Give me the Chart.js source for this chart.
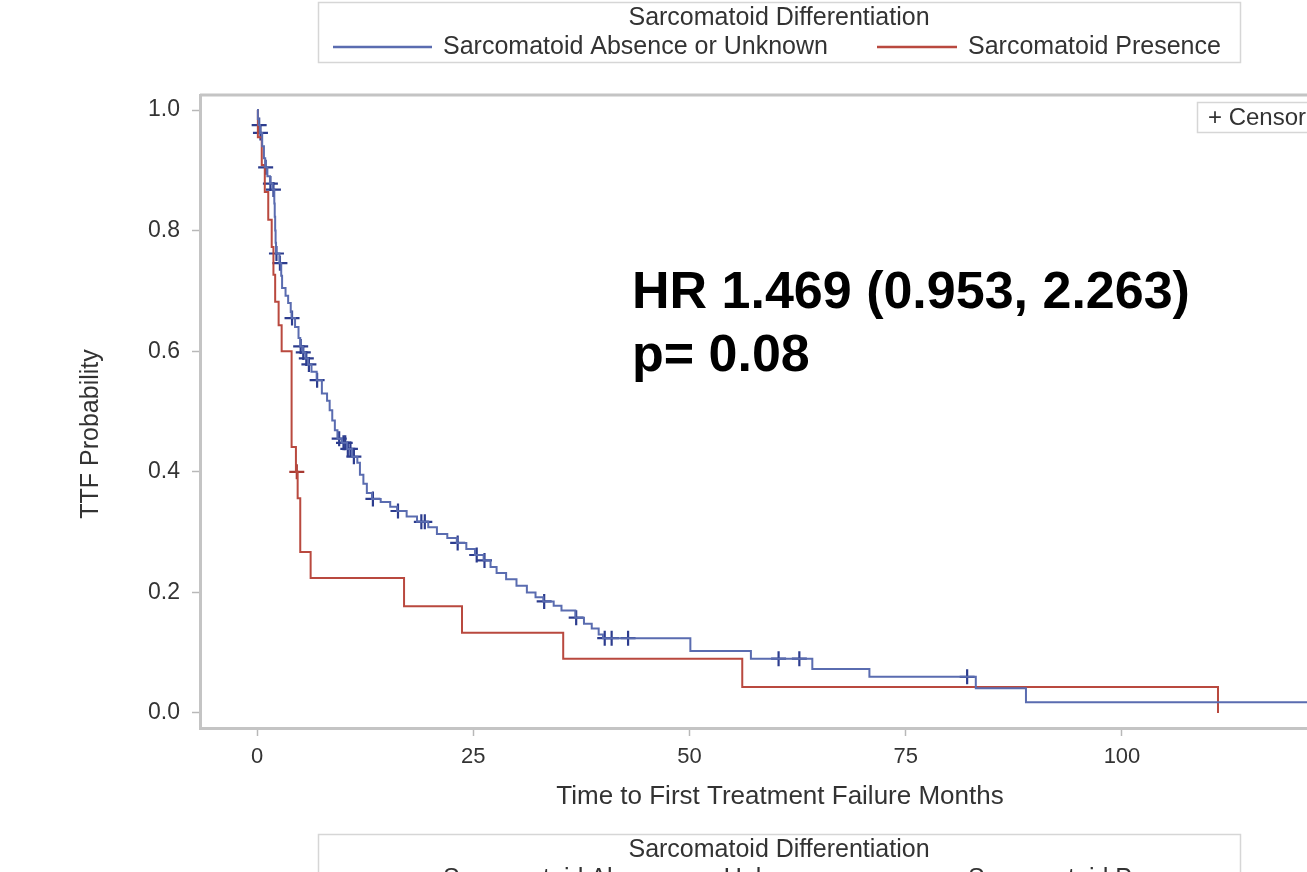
<!DOCTYPE html>
<html>
<head>
<meta charset="utf-8">
<script src="https://cdn.jsdelivr.net/npm/chart.js@4"></script>
<style>
  body { margin: 0; background: #fff; }
  canvas { display: block; }
</style>
</head>
<body>
<canvas id="km" width="1307" height="872"></canvas>
<script>
// Kaplan-Meier: time to first treatment failure, by sarcomatoid differentiation
const groupTitle = 'Sarcomatoid Differentiation';
const seriesNames = ['Sarcomatoid Absence or Unknown', 'Sarcomatoid Presence'];

// absence / unknown: event times (months) and survival after each step
const absTimes = [0, 0.1, 0.2, 0.35, 0.6, 0.8, 0.95, 1.2, 1.5, 1.8, 2.0, 2.05, 2.1, 2.15, 2.2, 2.6, 2.8, 2.9,
  3.3, 3.6, 3.9, 4.0, 4.4, 4.8, 5.0, 5.3, 5.6, 5.9, 6.3, 6.9, 7.5, 8.1, 8.4, 8.7, 9.0, 9.3, 9.8, 10.4,
  11.0, 11.6, 11.9, 12.3, 12.7, 13.3, 14.3, 15.4, 16.2, 17.3, 18.5, 19.8, 20.8, 22.0, 23.1, 24.2, 25.2,
  26.2, 27.0, 27.7, 28.8, 30.0, 31.2, 32.2, 33.1, 34.3, 35.2, 36.8, 37.8, 38.7, 39.5, 40.0, 50.1, 57.1,
  64.2, 70.8, 83.1, 88.9, 122];
const absSurv = [1.0, 0.985, 0.975, 0.962, 0.94, 0.92, 0.905, 0.89, 0.878, 0.868, 0.845, 0.823, 0.80, 0.78,
  0.762, 0.746, 0.725, 0.705, 0.692, 0.68, 0.665, 0.655, 0.64, 0.622, 0.608, 0.598, 0.588, 0.578, 0.566,
  0.552, 0.53, 0.518, 0.502, 0.485, 0.469, 0.455, 0.448, 0.438, 0.425, 0.415, 0.395, 0.38, 0.365, 0.355,
  0.35, 0.342, 0.335, 0.326, 0.317, 0.308, 0.297, 0.29, 0.282, 0.272, 0.262, 0.253, 0.242, 0.232, 0.222,
  0.211, 0.2, 0.192, 0.185, 0.178, 0.17, 0.158, 0.148, 0.14, 0.13, 0.124, 0.103, 0.09, 0.073, 0.06,
  0.041, 0.018, 0.018];
const absCensored = [0.25, 0.4, 1.0, 1.55, 1.9, 2.25, 2.65, 4.05, 5.05, 5.35, 5.7, 6.0, 6.95, 9.5, 10.0,
  10.2, 10.5, 10.8, 11.2, 13.4, 16.3, 19.0, 19.4, 23.2, 25.4, 26.3, 33.2, 36.9, 40.2, 41.0, 42.9, 60.3,
  62.7, 82.1];

// presence
const presTimes = [0, 0.1, 0.55, 0.9, 1.3, 1.7, 1.9, 2.1, 2.5, 2.85, 4.0, 4.5, 4.7, 5.0, 6.2, 17.0, 23.7,
  35.4, 56.1, 111.1];
const presSurv = [1.0, 0.955, 0.909, 0.864, 0.818, 0.773, 0.727, 0.682, 0.643, 0.60, 0.441, 0.40, 0.356,
  0.267, 0.224, 0.177, 0.133, 0.09, 0.043, 0.0];
const presCensored = [4.6];

const xTicks = [0, 25, 50, 75, 100];
const yTicks = [0, 0.2, 0.4, 0.6, 0.8, 1.0];

const hrLine = 'HR 1.469 (0.953, 2.263)';
const pLine = 'p= 0.08';

const FONT = '"Liberation Sans", Arial, sans-serif';
const blueLine = '#5a6cb0';
const blueMark = '#2c3c8e';
const redLine = '#b9493f';
const redMark = '#a83a32';
const frameColor = '#c4c4c4';

function toPoints(times, surv) {
  return times.map((t, i) => ({ x: t, y: surv[i] }));
}

// survival value at a censor time = last step at or before it
function censorPoints(censored, times, surv) {
  return censored.map(c => {
    let s = surv[0];
    for (let i = 0; i < times.length; i++) {
      if (times[i] <= c) s = surv[i];
    }
    return { x: c, y: s };
  });
}

function drawLegendBox(ctx, top) {
  ctx.save();
  ctx.strokeStyle = '#d6d6d6';
  ctx.lineWidth = 1.5;
  ctx.strokeRect(318.5, top + 0.5, 922, 60);
  ctx.fillStyle = '#333';
  ctx.textBaseline = 'middle';
  ctx.font = '25px ' + FONT;
  ctx.textAlign = 'center';
  ctx.fillText(groupTitle, 779, top + 16, 330);
  ctx.textAlign = 'left';
  ctx.lineWidth = 2.5;
  ctx.strokeStyle = blueLine;
  ctx.beginPath(); ctx.moveTo(333, top + 45); ctx.lineTo(432, top + 45); ctx.stroke();
  ctx.strokeStyle = redLine;
  ctx.beginPath(); ctx.moveTo(877, top + 45); ctx.lineTo(957, top + 45); ctx.stroke();
  ctx.fillText(seriesNames[0], 443, top + 45, 392);
  ctx.fillText(seriesNames[1], 968, top + 45, 258);
  ctx.restore();
}

const decorations = {
  id: 'decorations',
  afterDraw(chart) {
    const ctx = chart.ctx;
    const area = chart.chartArea;
    ctx.save();
    // top frame line
    ctx.strokeStyle = frameColor;
    ctx.lineWidth = 3;
    ctx.beginPath(); ctx.moveTo(area.left, area.top); ctx.lineTo(area.right, area.top); ctx.stroke();

    // axis titles
    ctx.fillStyle = '#333';
    ctx.textAlign = 'center';
    ctx.textBaseline = 'middle';
    ctx.font = '26px ' + FONT;
    ctx.fillText('Time to First Treatment Failure Months', 780, 797, 472);
    ctx.save();
    ctx.translate(91, 434);
    ctx.rotate(-Math.PI / 2);
    ctx.font = '25px ' + FONT;
    ctx.fillText('TTF Probability', 0, 0, 194);
    ctx.restore();

    // censored inset legend (runs off the right edge)
    ctx.strokeStyle = '#d6d6d6';
    ctx.lineWidth = 1.5;
    ctx.strokeRect(1197.5, 102.5, 140, 30);
    ctx.textAlign = 'left';
    ctx.font = '24px ' + FONT;
    ctx.fillText('+ Censored', 1208, 118);

    // hazard ratio annotation
    ctx.fillStyle = '#000';
    ctx.textBaseline = 'alphabetic';
    ctx.font = 'bold 52px ' + FONT;
    ctx.fillText(hrLine, 632, 308, 570);
    ctx.fillText(pLine, 632, 371);
    ctx.restore();

    drawLegendBox(ctx, 2);
    drawLegendBox(ctx, 834);
  }
};

const xMin = -6.59, xMax = 121.39;
const yMin = -0.0249, yMax = 1.0249;

const axisBase = {
  type: 'linear',
  border: { display: true, color: frameColor, width: 3 },
  grid: { drawOnChartArea: false, drawTicks: true, tickLength: 8, tickColor: '#b8b8b8', tickWidth: 1.5 },
};

new Chart(document.getElementById('km'), {
  type: 'scatter',
  data: {
    datasets: [
      {
        label: seriesNames[0],
        data: toPoints(absTimes, absSurv),
        showLine: true, stepped: 'before',
        borderColor: blueLine, borderWidth: 2, pointRadius: 0
      },
      {
        label: seriesNames[1],
        data: toPoints(presTimes, presSurv),
        showLine: true, stepped: 'before',
        borderColor: redLine, borderWidth: 2, pointRadius: 0
      },
      {
        label: 'Censored ' + seriesNames[0],
        data: censorPoints(absCensored, absTimes, absSurv),
        pointStyle: 'cross', pointRadius: 7.5, borderWidth: 2.2,
        borderColor: blueMark, backgroundColor: blueMark
      },
      {
        label: 'Censored ' + seriesNames[1],
        data: censorPoints(presCensored, presTimes, presSurv),
        pointStyle: 'cross', pointRadius: 7.5, borderWidth: 2.2,
        borderColor: redMark, backgroundColor: redMark
      }
    ]
  },
  options: {
    responsive: false,
    animation: false,
    layout: { autoPadding: false, padding: { top: 95, right: 0, bottom: 0, left: 0 } },
    plugins: { legend: { display: false }, tooltip: { enabled: false } },
    scales: {
      x: {
        ...axisBase,
        min: xMin, max: xMax,
        afterBuildTicks: s => { s.ticks = xTicks.map(v => ({ value: v })); },
        afterFit: s => { s.height = 144; },
        ticks: { color: '#333', font: { family: FONT, size: 22 }, padding: 8, autoSkip: false, maxRotation: 0 }
      },
      y: {
        ...axisBase,
        min: yMin, max: yMax,
        afterBuildTicks: s => { s.ticks = yTicks.map(v => ({ value: v })); },
        afterFit: s => { s.width = 200; },
        ticks: {
          color: '#333', font: { family: FONT, size: 23 }, padding: 12, autoSkip: false,
          callback: v => v.toFixed(1)
        }
      }
    }
  },
  plugins: [decorations]
});
</script>
</body>
</html>
